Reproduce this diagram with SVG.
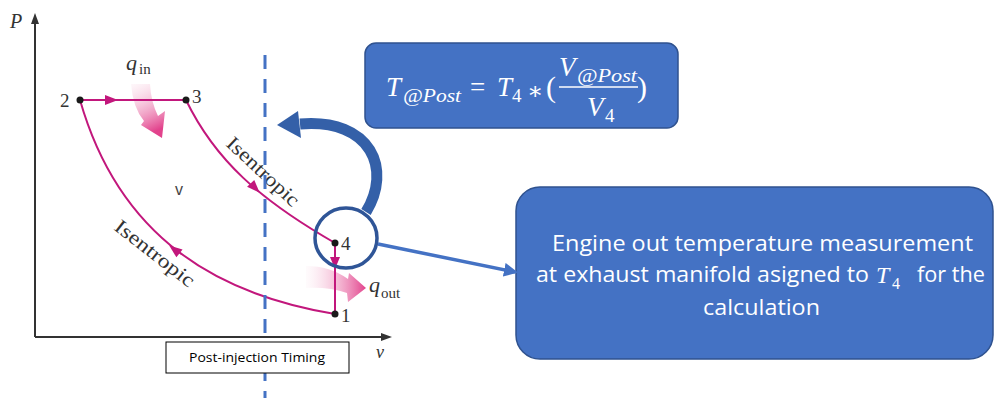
<svg xmlns="http://www.w3.org/2000/svg" width="995" height="398" viewBox="0 0 995 398">
<defs>
<style>
.ax{stroke:#333;stroke-width:2;fill:none}
.cy{stroke:#C2177C;stroke-width:2;fill:none}
.ah{fill:#C2177C}
.dot{fill:#1a1a1a}
.lbl{font-family:"Liberation Serif",serif;fill:#333}
.it{font-style:italic}
.fm{font-family:"Liberation Serif",serif;font-style:italic;fill:#fff}
.bx{fill:#4472C4;stroke:#2F528F;stroke-width:1.5}
.bt{font-family:"Open Sans","Liberation Sans",sans-serif;fill:#fff;font-size:21px}
</style>
<linearGradient id="gin" x1="0" y1="0" x2="0.3" y2="1">
<stop offset="0" stop-color="#F9D8E6" stop-opacity="0.2"/>
<stop offset="1" stop-color="#E2428C"/>
</linearGradient>
<linearGradient id="gout" x1="0" y1="0" x2="1" y2="0">
<stop offset="0" stop-color="#F9D8E6" stop-opacity="0.1"/>
<stop offset="1" stop-color="#E2428C"/>
</linearGradient>
<marker id="blueArrow" markerWidth="14" markerHeight="14" refX="11" refY="7" orient="auto" markerUnits="userSpaceOnUse">
<path d="M0,0 L14,7 L0,14 Z" fill="#4472C4"/>
</marker>
</defs>
<rect width="995" height="398" fill="#fff"/>

<g id="axes">
<path class="ax" d="M35,337 V20"/>
<path d="M35,13 L31,24 L39,24 Z" fill="#333"/>
<path class="ax" d="M35,337 H384"/>
<path d="M392,337 L381,333 L381,341 Z" fill="#333"/>
<text class="lbl it" x="10" y="28" font-size="20">P</text>
<text class="lbl it" x="376" y="358" font-size="18" fill="#555">v</text>
<text x="175" y="195" font-family="Liberation Sans,sans-serif" font-size="16" fill="#444">v</text>
</g>

<g id="heat">
<path d="M131,84 Q133,108 144,121 L141,125 L162,138 L165,111 L158,116 Q151,102 150,84 Z" fill="url(#gin)"/>
<text class="lbl it" x="126" y="70" font-size="22">q</text>
<text class="lbl" x="139" y="74" font-size="15">in</text>
<path d="M306,266 Q330,266 348,279 L349,273 L366,288 L348,302 L347,293 Q330,287 306,288 Z" fill="url(#gout)"/>
<text class="lbl it" x="369" y="292" font-size="22">q</text>
<text class="lbl" x="381" y="298" font-size="15">out</text>
</g>

<g id="cycle">
<path class="cy" d="M80,100 H186"/>
<path class="cy" d="M186,100 C215,160 260,200 335,243"/>
<path class="cy" d="M335,243 V314"/>
<path class="cy" d="M335,314 C220,295 120,240 80,100"/>
<polygon class="ah" points="105,95 118,100 105,105"/>
<polygon class="ah" points="-12,-5 1,0 -12,5" transform="translate(259,192) rotate(46)"/>
<polygon class="ah" points="-12,-5 1,0 -12,5" transform="translate(170,246) rotate(-142)"/>
<polygon class="ah" points="330,257 335,269 340,257"/>
<circle class="dot" cx="80" cy="100" r="3.5"/>
<circle class="dot" cx="186" cy="100" r="3.5"/>
<circle class="dot" cx="335" cy="243" r="3.5"/>
<circle class="dot" cx="335" cy="314" r="3.5"/>
<text class="lbl" x="60" y="107" font-size="19">2</text>
<text class="lbl" x="192" y="103" font-size="19">3</text>
<text class="lbl" x="341" y="250" font-size="19">4</text>
<text class="lbl" x="341" y="322" font-size="19">1</text>
<text class="lbl" font-size="20" textLength="92" lengthAdjust="spacingAndGlyphs" transform="translate(225,145) rotate(43)">Isentropic</text>
<text class="lbl" font-size="20" textLength="96" lengthAdjust="spacingAndGlyphs" transform="translate(113,229) rotate(38)">Isentropic</text>
</g>

<g id="timing-line">
<path d="M265,55 V398" stroke="#4472C4" stroke-width="3" stroke-dasharray="14 10" fill="none"/>
</g>

<g id="post-injection">
<rect x="166" y="342" width="183" height="31" fill="#fff" stroke="#000" stroke-width="1"/>
<text x="257" y="362" text-anchor="middle" font-family="Open Sans,Liberation Sans,sans-serif" font-size="12" textLength="136" lengthAdjust="spacingAndGlyphs" fill="#000">Post-injection Timing</text>
</g>

<g id="formula">
<rect class="bx" x="365" y="43" width="313" height="85" rx="11"/>
<text class="fm" x="386" y="96" font-size="27">T</text>
<text class="fm" x="403" y="102" font-size="19" textLength="58" lengthAdjust="spacingAndGlyphs">@Post</text>
<text x="470" y="96" font-size="27" font-family="Liberation Serif,serif" fill="#fff">=</text>
<text class="fm" x="497" y="96" font-size="27">T</text>
<text x="512" y="102" font-size="19" font-family="Liberation Serif,serif" fill="#fff">4</text>
<text x="527" y="99" font-size="24" font-family="DejaVu Serif,serif" fill="#fff">∗</text>
<text x="546" y="97" font-size="30" font-family="Liberation Serif,serif" fill="#fff">(</text>
<text class="fm" x="559" y="76" font-size="27">V</text>
<text class="fm" x="577" y="82" font-size="19" textLength="60" lengthAdjust="spacingAndGlyphs">@Post</text>
<path d="M559,87 H638" stroke="#fff" stroke-width="1.5"/>
<text class="fm" x="587" y="116" font-size="27">V</text>
<text x="605" y="122" font-size="19" font-family="Liberation Serif,serif" fill="#fff">4</text>
<text x="637" y="97" font-size="30" font-family="Liberation Serif,serif" fill="#fff">)</text>
</g>

<g id="measurement">
<rect class="bx" x="516" y="187" width="477" height="172" rx="24"/>
<text class="bt" x="552" y="251" textLength="421" lengthAdjust="spacingAndGlyphs">Engine out temperature measurement</text>
<text class="bt" x="536" y="282" textLength="333" lengthAdjust="spacingAndGlyphs">at exhaust manifold asigned to</text>
<text x="876" y="283" font-size="24" font-family="Liberation Serif,serif" font-style="italic" fill="#fff">T</text>
<text x="892" y="289" font-size="16" font-family="Liberation Serif,serif" fill="#fff">4</text>
<text class="bt" x="917" y="282" textLength="68" lengthAdjust="spacingAndGlyphs">for the</text>
<text class="bt" x="703" y="315" textLength="117" lengthAdjust="spacingAndGlyphs">calculation</text>
</g>

<g id="connectors">
<ellipse cx="346" cy="238" rx="31" ry="30" fill="none" stroke="#2F5597" stroke-width="3.5"/>
<path d="M378,244 L515,272" stroke="#4472C4" stroke-width="3.5" fill="none" marker-end="url(#blueArrow)"/>
<path d="M366,212 C392,170 372,118 300,124" stroke="#3460A8" stroke-width="11" fill="none"/>
<polygon points="277,125 298,111 301,138" fill="#3460A8"/>
</g>
</svg>
